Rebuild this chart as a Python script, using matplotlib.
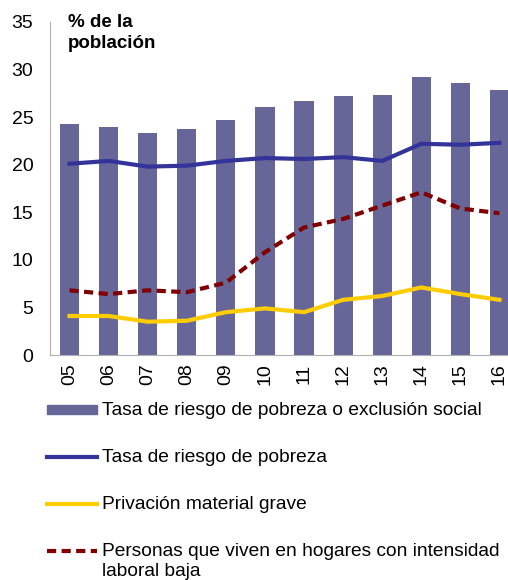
import numpy as np
import matplotlib.pyplot as plt
from matplotlib.lines import Line2D
from matplotlib.patches import Rectangle

plt.rcParams['font.family'] = ['Liberation Sans', 'DejaVu Sans']

years = ["05", "06", "07", "08", "09", "10", "11", "12", "13", "14", "15", "16"]
arope = [24.3, 24.0, 23.3, 23.8, 24.7, 26.1, 26.7, 27.2, 27.3, 29.2, 28.6, 27.9]
pobreza = [20.1, 20.4, 19.8, 19.9, 20.4, 20.7, 20.6, 20.8, 20.4, 22.2, 22.1, 22.3]
privacion = [4.1, 4.1, 3.5, 3.6, 4.5, 4.9, 4.5, 5.8, 6.2, 7.1, 6.4, 5.8]
baja_int = [6.8, 6.4, 6.8, 6.6, 7.6, 10.8, 13.4, 14.3, 15.7, 17.1, 15.4, 14.9]

labels = ["Tasa de riesgo de pobreza o exclusión social",
          "Tasa de riesgo de pobreza",
          "Privación material grave",
          "Personas que viven en hogares con intensidad\nlaboral baja"]

c_bar = "#666699"
c_blue = "#333399"
c_yel = "#FFCC00"
c_red = "#800000"

fig = plt.figure(figsize=(5.08, 5.8), dpi=100)
W, H = 508, 580
ax = fig.add_axes([50 / W, (H - 355) / H, 469 / W, 333 / H])

x = np.arange(len(years))
ax.bar(x, arope, width=0.49, color=c_bar, zorder=1)
ax.plot(x, pobreza, color=c_blue, lw=3, zorder=2)
ax.plot(x, privacion, color=c_yel, lw=3, zorder=2)
ax.plot(x, baja_int, color=c_red, lw=3, ls=(0, (2.2, 1.3)), zorder=2)

ax.set_xlim(-0.5, len(years) - 0.5)
ax.set_ylim(0, 35)
ax.set_yticks(range(0, 36, 5))
ax.set_xticks(x)
ax.set_xticklabels(years, rotation=90)
ax.tick_params(length=0, labelsize=14, pad=12)
ax.tick_params(axis='x', pad=6)
for s in ["top", "right"]:
    ax.spines[s].set_visible(False)
for s in ["left", "bottom"]:
    ax.spines[s].set_color("#b0b0b0")

fig.text(68 / W, 1 - 14 / H, "% de la\npoblación", fontsize=13.5,
         fontweight="bold", va="top", ha="left", linespacing=1.3)

# legend
rows = [410, 457, 504, 551]
fig.add_artist(Rectangle((47 / W, 1 - 414 / H), 50 / W, 9 / H,
                         transform=fig.transFigure, color=c_bar))
fig.add_artist(Line2D([47 / W, 97 / W], [1 - rows[1] / H] * 2, color=c_blue, lw=3))
fig.add_artist(Line2D([47 / W, 97 / W], [1 - rows[2] / H] * 2, color=c_yel, lw=3))
fig.add_artist(Line2D([47 / W, 97 / W], [1 - rows[3] / H] * 2, color=c_red, lw=3,
                      ls=(0, (2.2, 1.3))))
for r, lab in zip(rows, labels):
    fig.text(102 / W, 1 - (r - 8) / H, lab, fontsize=13.8, va="top", ha="left",
             linespacing=1.22)

fig.savefig("out.png", dpi=100)
